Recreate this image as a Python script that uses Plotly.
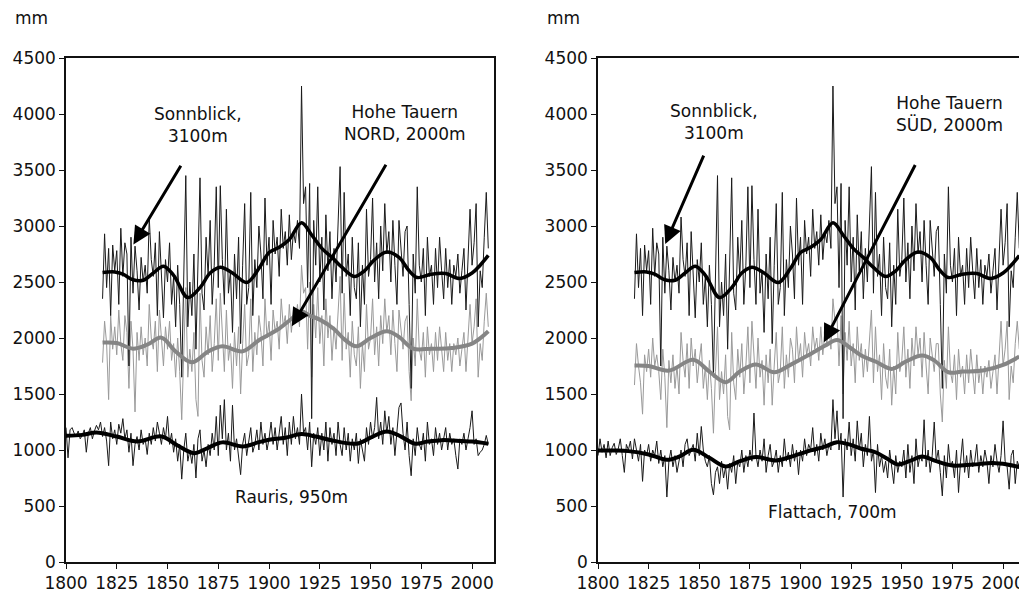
import plotly.graph_objects as go

# ---------------- data (annual precipitation, mm) ----------------
SONNBLICK_START = 1818
sonnblick = [
    2350, 2930,
    2450, 2800, 2200, 2830, 2600, 2780, 2300, 2980, 2550, 2850,
    2750, 1750, 2900, 2400, 2820, 2600, 2250, 2720, 2500, 2650,
    2400, 3080, 2700, 2550, 2850, 2200, 2950, 2600, 2180, 2700,
    2500, 2850, 2300, 2550, 2100, 2650, 2300, 1650, 2450, 3450,
    2100, 2500, 2200, 2750, 1900, 2600, 3430, 2400, 2250, 2900,
    2550, 3050, 2300, 2650, 3350, 2450, 3360, 2700, 2300, 3150,
    2400, 2600, 2050, 2750, 2350, 2900, 1950, 2650, 3200, 2300,
    2450, 3300, 2200, 2700, 2450, 3000, 2750, 2350, 3250, 2650,
    2900, 2300, 3050, 2750, 2900, 2550, 3150, 2800, 2950, 2650,
    3100, 2700, 2950, 2850, 3050, 2800, 4250, 3200, 3350, 2450,
    3380, 1280, 3050, 2650, 3350, 2500, 2900, 2250, 3100, 2600,
    2950, 2350, 2800, 2500, 2950, 3530, 2400, 3300, 2550, 2750,
    2200, 2900, 2450, 2350, 2850, 2100, 2650, 2300, 3150, 2550,
    2700, 3250, 2500, 2850, 2350, 3000, 2600, 3200, 2750, 2950,
    2500, 3050, 2650, 2300, 3050, 2800, 2550, 2950, 3000, 2300,
    1550, 2750, 2400, 3350, 2650, 2500, 2800, 2200, 2900, 2550,
    2650, 2300, 2800, 2450, 2900, 2600, 2350, 2800, 2450, 2700,
    2300, 2650, 2550, 2750, 2400, 2600, 2800, 2250, 2700, 3150,
    2650, 2850, 3200, 2100, 2600, 2450, 2900, 3300, 2800,
]

NORD_START = 1818
nord = [
    1780, 2150,
    1950, 1450, 2200, 1900, 2100, 1850, 2250, 1950, 1800, 2200,
    2050, 1550, 2150, 1900, 1340, 2050, 1800, 2100, 1850, 2000,
    1750, 2300, 2000, 1900, 2150, 1700, 2250, 2000, 1750, 2100,
    1900, 2150, 1800, 1950, 1650, 2000, 1700, 1270, 1850, 2450,
    1650, 1900, 1700, 2050, 1450, 1300, 2400, 1800, 1650, 2100,
    1850, 2200, 1700, 1950, 2350, 1800, 2400, 2000, 1700, 2250,
    1800, 1950, 1550, 2050, 1750, 2100, 1500, 1950, 2300, 1750,
    1850, 2350, 1700, 2050, 1850, 2200, 2050, 1750, 2350, 2000,
    2150, 1800, 2250, 2050, 2150, 1900, 2350, 2100, 2200, 1950,
    2300, 2050, 2250, 2150, 2300, 2100, 2650, 2400, 2450, 1900,
    2500, 1650, 2300, 2000, 2450, 1950, 2200, 1750, 2350, 2000,
    2200, 1800, 2100, 1900, 2200, 2550, 1800, 2400, 1900, 2050,
    1650, 2150, 1850, 1750, 2100, 1550, 1950, 1700, 2300, 1900,
    2000, 2350, 1850, 2100, 1750, 2200, 1950, 2350, 2050, 2200,
    1850, 2250, 1950, 1700, 2250, 2050, 1900, 2150, 2200, 1700,
    1440, 2000, 1750, 2350, 1900, 1800, 2050, 1650, 2100, 1850,
    1950, 1700, 2050, 1800, 2100, 1900, 1700, 2050, 1800, 1950,
    1700, 1950, 1850, 2000, 1750, 1900, 2050, 1700, 2000, 2300,
    1950, 2100, 2350, 1650, 1950, 1800, 2150, 2400, 2100,
]

RAURIS_START = 1800
rauris = [
    1200, 930, 1180, 1200, 1150, 1120, 1170, 1100, 1130, 1180,
    980, 1150, 1200, 1100, 1170, 1220, 1180, 1250, 1120, 1200,
    1080, 860, 1250, 1100, 1180, 1050, 1230, 1150, 1280, 1100,
    1180, 980, 1150, 860, 1050, 1120, 1000, 1180, 1050, 1100,
    960, 1150, 1050, 1200, 1080, 1250, 1150, 1050, 1200, 1100,
    1300, 1050, 1150, 980, 1100, 900, 1050, 740, 1000, 1150,
    900, 1000, 880, 1050, 750, 1100, 1180, 900, 1000, 850,
    1050, 950, 1150, 1000, 1300, 950, 1400, 1100, 1450, 1000,
    1150, 900, 1400, 1000, 1100, 950, 780, 1050, 1150, 950,
    1100, 1200, 980, 1050, 1180, 1000, 1250, 1050, 1150, 1000,
    1100, 1250, 1050, 1200, 1000, 1150, 1300, 1050, 1200, 950,
    1250, 1050, 1300, 1100, 1200, 1050, 1500, 1150, 1200, 1000,
    1250, 850, 1150, 1050, 1200, 950, 1150, 1000, 1250, 900,
    1200, 1050, 1150, 950, 1250, 1050, 950, 1200, 1000, 1150,
    900, 1100, 1000, 1150, 880, 1100, 1000, 900, 1200, 1050,
    1250, 1100, 1200, 1470, 1100, 1250, 1050, 1350, 1150, 1300,
    1050, 1200, 950, 1150, 1380, 1420, 1150, 1000, 1250, 950,
    770, 1100, 950, 1200, 1050, 1000, 1150, 900, 1250, 1050,
    1100, 950, 1200, 1050, 1150, 1000, 1100, 1200, 1000, 1150,
    1050, 1100, 950, 830, 1100, 1050, 1150, 1000, 1100, 1200,
    1350, 1050, 1100, 950, 980, 1000, 1050, 1130, 1050,
]

SUED_START = 1818
sued = [
    1580, 1950,
    1750, 1600, 1320, 1850, 1700, 1900, 1650, 2000, 1750, 1850,
    1700, 1450, 1900, 1650, 1200, 1800, 1600, 1850, 1550, 1750,
    1500, 2050, 1800, 1650, 1950, 1550, 2000, 1750, 1900, 1600,
    1800, 1950, 1550, 1750, 1450, 1800, 1550, 1150, 1700, 2100,
    1450, 1700, 1500, 1850, 1300, 1180, 2050, 1600, 1450, 1900,
    1650, 1950, 1500, 1750, 2100, 1600, 2150, 1800, 1550, 2000,
    1650, 1800, 1400, 1850, 1600, 1900, 1400, 1750, 2050, 1600,
    1700, 2100, 1550, 1850, 1650, 2000, 1900, 1600, 2100, 1800,
    1950, 1650, 2050, 1850, 1950, 1750, 2100, 1900, 2000, 1800,
    2100, 1850, 2050, 1950, 2100, 1900, 2350, 2150, 2200, 1750,
    2200, 1500, 2050, 1800, 2150, 1750, 1950, 1600, 2100, 1800,
    1950, 1650, 1900, 1700, 1950, 2250, 1600, 2100, 1700, 1850,
    1450, 1950, 1650, 1550, 1900, 1400, 1750, 1500, 2050, 1700,
    1800, 2100, 1650, 1900, 1550, 2000, 1750, 2100, 1850, 2000,
    1650, 2050, 1750, 1500, 2000, 1850, 1700, 1950, 1950, 1500,
    1250, 1800, 1550, 2100, 1700, 1600, 1850, 1450, 1900, 1650,
    1750, 1500, 1850, 1600, 1900, 1700, 1500, 1850, 1600, 1750,
    1500, 1750, 1650, 1800, 1550, 1700, 1850, 1500, 1800, 2150,
    1750, 1900, 2150, 1450, 1750, 1600, 1950, 2150, 1900,
]

FLATTACH_START = 1800
flattach = [
    950, 1100, 980, 1050, 930, 1080, 950, 1020, 1060, 960,
    1010, 1100, 950, 800, 1050, 1000, 1080, 920, 1100, 980,
    900, 1050, 720, 1000, 950, 1050, 900, 1000, 950, 1080,
    880, 1000, 850, 950, 580, 900, 1000, 850, 950, 800,
    900, 1000, 850, 1050, 1100, 950, 1000, 1050, 900, 1150,
    950, 1210, 1000, 900, 850, 950, 700, 600, 800, 850,
    700, 900, 750, 850, 650, 880, 800, 950, 700, 900,
    850, 1000, 800, 950, 850, 1000, 900, 1330, 950, 850,
    1000, 900, 1100, 800, 950, 1050, 850, 900, 1000, 800,
    950, 850, 1100, 900, 980, 850, 1050, 900, 1000, 780,
    1000, 900, 1100, 950, 1050, 1000, 1200, 950, 1050, 900,
    1150, 1000, 1100, 950, 1050, 1000, 1450, 1100, 1350, 1000,
    1150, 580, 1100, 1000, 1250, 950, 1100, 900, 1260, 1000,
    1150, 850, 1050, 950, 1300, 900, 1000, 620, 1050, 850,
    950, 800, 900, 750, 1000, 850, 700, 950, 800, 900,
    850, 1000, 750, 1050, 800, 950, 700, 1100, 850, 950,
    900, 1270, 850, 1000, 800, 950, 1250, 900, 1000, 800,
    590, 950, 750, 1050, 850, 900, 750, 1000, 620, 900,
    1100, 800, 950, 750, 1000, 850, 900, 1050, 800, 950,
    850, 1000, 900, 700, 950, 850, 1050, 900, 800, 950,
    1260, 900, 850, 650, 950, 1000, 700, 900, 850,
]

# smoothed curves (read at key years)
sonnblick_sm_years = [1818, 1824, 1828, 1833, 1838, 1843, 1848, 1853, 1860, 1866, 1871, 1876,
                      1882, 1889, 1895, 1900, 1905, 1910, 1916, 1921, 1926, 1931, 1936, 1942,
                      1947, 1952, 1958, 1964, 1969, 1973, 1980, 1987, 1994, 2000, 2004, 2008]
sonnblick_sm = [2585, 2590, 2570, 2520, 2516, 2580, 2641, 2560, 2361, 2450, 2580, 2632,
                2580, 2495, 2620, 2763, 2810, 2880, 3030, 2920, 2800, 2720, 2630, 2549,
                2600, 2700, 2767, 2720, 2600, 2540, 2570, 2575, 2531, 2580, 2650, 2737]

nord_sm_years = [1818, 1825, 1833, 1840, 1847, 1854, 1862, 1870, 1877, 1887, 1895, 1905, 1911,
                 1916, 1920, 1925, 1932, 1937, 1943, 1950, 1958, 1964, 1971, 1980, 1990, 2000, 2008]
nord_sm = [1959, 1955, 1905, 1940, 2003, 1880, 1783, 1880, 1926, 1881, 1980, 2084, 2170,
           2239, 2200, 2164, 2080, 1990, 1926, 2000, 2060, 2010, 1905, 1905, 1910, 1950, 2060]

rauris_sm_years = [1800, 1808, 1815, 1825, 1835, 1847, 1855, 1863, 1870, 1877, 1887, 1895, 1900, 1908,
                   1916, 1923, 1930, 1943, 1950, 1958, 1965, 1972, 1978, 1985, 1995, 2000, 2008]
rauris_sm = [1127, 1135, 1157, 1120, 1076, 1121, 1040, 972, 1020, 1068, 1032, 1070, 1091, 1110,
             1142, 1120, 1090, 1056, 1110, 1166, 1120, 1056, 1075, 1088, 1080, 1075, 1056]

sued_sm_years = [1818, 1825, 1835, 1847, 1855, 1863, 1870, 1878, 1887, 1895, 1905, 1912, 1918,
                 1924, 1930, 1937, 1945, 1952, 1960, 1966, 1973, 1980, 1990, 2000, 2008]
sued_sm = [1754, 1750, 1709, 1805, 1700, 1605, 1700, 1763, 1694, 1760, 1858, 1930, 1983,
           1920, 1843, 1790, 1724, 1790, 1843, 1800, 1694, 1700, 1710, 1760, 1834]

flattach_sm_years = [1800, 1808, 1815, 1825, 1834, 1840, 1847, 1855, 1863, 1870, 1878, 1888, 1897, 1905,
                     1912, 1918, 1924, 1930, 1937, 1943, 1948, 1955, 1960, 1967, 1975, 1985, 1995, 2002, 2008]
flattach_sm = [996, 995, 990, 960, 913, 940, 1002, 930, 853, 900, 937, 907, 950, 996,
               1030, 1070, 1050, 1011, 980, 920, 871, 910, 943, 900, 862, 870, 883, 870, 847]

x_ticks = [1800, 1825, 1850, 1875, 1900, 1925, 1950, 1975, 2000]
y_ticks = [0, 500, 1000, 1500, 2000, 2500, 3000, 3500, 4000, 4500]


def yrs(start, vals):
    return list(range(start, start + len(vals)))


BLACK = "#1a1a1a"
GRAY_THIN = "#9a9a9a"
GRAY_SM = "#858585"
FONT = "DejaVu Sans, Liberation Sans, Arial, sans-serif"

fig = go.Figure()


def add_panel(xa, ya, gray_vals, gray_start, gray_sm_y, gray_sm_v,
              low_vals, low_start, low_sm_y, low_sm_v):
    ax = dict(xaxis=xa, yaxis=ya)
    fig.add_trace(go.Scatter(x=yrs(gray_start, gray_vals), y=gray_vals, mode="lines",
                             line=dict(color=GRAY_THIN, width=1), **ax))
    fig.add_trace(go.Scatter(x=yrs(SONNBLICK_START, sonnblick), y=sonnblick, mode="lines",
                             line=dict(color=BLACK, width=1), **ax))
    fig.add_trace(go.Scatter(x=yrs(low_start, low_vals), y=low_vals, mode="lines",
                             line=dict(color=BLACK, width=1), **ax))
    fig.add_trace(go.Scatter(x=gray_sm_y, y=gray_sm_v, mode="lines",
                             line=dict(color=GRAY_SM, width=4, shape="spline"), **ax))
    fig.add_trace(go.Scatter(x=sonnblick_sm_years, y=sonnblick_sm, mode="lines",
                             line=dict(color="#000000", width=3.5, shape="spline"), **ax))
    fig.add_trace(go.Scatter(x=low_sm_y, y=low_sm_v, mode="lines",
                             line=dict(color="#000000", width=4, shape="spline"), **ax))


add_panel("x", "y", nord, NORD_START, nord_sm_years, nord_sm,
          rauris, RAURIS_START, rauris_sm_years, rauris_sm)
add_panel("x2", "y2", sued, SUED_START, sued_sm_years, sued_sm,
          flattach, FLATTACH_START, flattach_sm_years, flattach_sm)

# the page places the figure 8px from the top-left corner
W, H = 1027, 584
top, bottom = 50, 554
ydom = [1 - bottom / H, 1 - top / H]

axis_common = dict(showgrid=False, zeroline=False, showline=True, linecolor="#111",
                   linewidth=1.5, mirror=True, ticks="outside", ticklen=5,
                   tickcolor="#111", tickwidth=1.2, automargin=False,
                   tickfont=dict(family=FONT, size=17, color="#111"))

fig.update_layout(
    width=W, height=H, showlegend=False,
    paper_bgcolor="white", plot_bgcolor="white",
    margin=dict(l=0, r=0, t=0, b=0, autoexpand=False),
    xaxis=dict(domain=[58 / W, 486 / W], range=[1800, 2010.8], tickvals=x_ticks, **axis_common),
    yaxis=dict(domain=ydom, range=[0, 4500], tickvals=y_ticks, **axis_common),
    xaxis2=dict(domain=[590 / W, 1020 / W], range=[1800, 2012.3], tickvals=x_ticks,
                anchor="y2", **axis_common),
    yaxis2=dict(domain=ydom, range=[0, 4500], tickvals=y_ticks, anchor="x2", **axis_common),
)

txt = dict(family=FONT, size=17, color="#111")

labels = [
    ("x", "y", 1865, 3900, "Sonnblick,<br>3100m"),
    ("x", "y", 1967, 3923, "Hohe Tauern<br>NORD, 2000m"),
    ("x", "y", 1911, 579, "Rauris, 950m"),
    ("x2", "y2", 1857.4, 3928, "Sonnblick,<br>3100m"),
    ("x2", "y2", 1973.3, 4001, "Hohe Tauern<br>SÜD, 2000m"),
    ("x2", "y2", 1916, 446, "Flattach, 700m"),
]
for xr, yr, x, y, t in labels:
    fig.add_annotation(xref=xr, yref=yr, x=x, y=y, text=t, showarrow=False,
                       font=txt, align="center")

arrows = [
    ("x", "y", 1833.2, 2835, 1857, 3551),
    ("x", "y", 1911.2, 2105, 1958, 3560),
    ("x2", "y2", 1833.2, 2839, 1852.5, 3641),
    ("x2", "y2", 1911.5, 1962, 1957, 3558),
]
for xr, yr, hx, hy, tx, ty in arrows:
    fig.add_annotation(xref=xr, yref=yr, x=hx, y=hy, ax=tx, ay=ty,
                       axref=xr, ayref=yr, text="", showarrow=True,
                       arrowhead=2, arrowsize=1.2, arrowwidth=3, arrowcolor="#000")

for xp in (23.5 / W, 555 / W):
    fig.add_annotation(xref="paper", yref="paper", x=xp, y=1 - 10 / H, text="mm",
                       xanchor="center", yanchor="middle",
                       showarrow=False, font=dict(family=FONT, size=17, color="#111"))

fig.write_html("out.html")
